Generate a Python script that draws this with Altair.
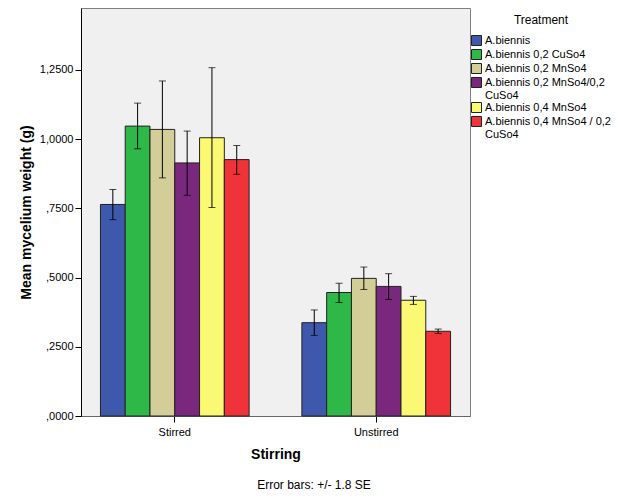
import altair as alt
import pandas as pd

treatments = [
    "A.biennis",
    "A.biennis 0,2 CuSo4",
    "A.biennis 0,2 MnSo4",
    "A.biennis 0,2 MnSo4/0,2 CuSo4",
    "A.biennis 0,4 MnSo4",
    "A.biennis 0,4 MnSo4 / 0,2 CuSo4",
]
colors = ["#3E58AC", "#2EB848", "#D3CE97", "#7A287E", "#FBF873", "#EF3338"]
groups = ["Stirred", "Unstirred"]

stirred_mean = [0.764, 1.047, 1.035, 0.914, 1.005, 0.926]
stirred_lo = [0.709, 0.965, 0.860, 0.797, 0.753, 0.873]
stirred_hi = [0.818, 1.130, 1.210, 1.029, 1.258, 0.977]
unstirred_mean = [0.337, 0.446, 0.497, 0.468, 0.418, 0.306]
unstirred_lo = [0.291, 0.410, 0.457, 0.421, 0.403, 0.298]
unstirred_hi = [0.383, 0.479, 0.538, 0.514, 0.432, 0.314]

y_ticks = [0, 0.25, 0.5, 0.75, 1.0, 1.25]
footnote = "Error bars: +/- 1.8 SE"

rows = []
for g, means, los, his in [
    ("Stirred", stirred_mean, stirred_lo, stirred_hi),
    ("Unstirred", unstirred_mean, unstirred_lo, unstirred_hi),
]:
    for t, m, lo, hi in zip(treatments, means, los, his):
        rows.append({"Stirring": g, "Treatment": t, "mean": m, "lo": lo, "hi": hi})
df = pd.DataFrame(rows)

FONT = "Liberation Sans"

x_enc = alt.X(
    "Stirring:N",
    sort=groups,
    scale=alt.Scale(paddingInner=0.262, paddingOuter=0.0965),
    axis=alt.Axis(
        title="Stirring", labelAngle=0, labelFontSize=11, titleFontSize=14,
        titleFontWeight="bold", tickSize=6, labelPadding=4, titlePadding=10,
        domainColor="#666666", tickColor="black", labelColor="black", titleColor="black",
    ),
)
xo_enc = alt.XOffset("Treatment:N", sort=treatments,
                     scale=alt.Scale(paddingInner=0, paddingOuter=0))

bars = alt.Chart(df).mark_bar(stroke="#222222", strokeWidth=1).encode(
    x=x_enc,
    xOffset=xo_enc,
    y=alt.Y(
        "mean:Q",
        scale=alt.Scale(domain=[0, 1.4735], nice=False, zero=True),
        axis=alt.Axis(
            title="Mean mycelium weight (g)", values=y_ticks, grid=False,
            labelFontSize=11, titleFontSize=14, titleFontWeight="bold",
            tickSize=6, labelPadding=2, titlePadding=6,
            domainColor="black", tickColor="black", labelColor="black", titleColor="black",
            labelExpr="datum.value < 1 ? replace(format(datum.value, '.4f'), '0.', ',') : replace(format(datum.value, '.4f'), '.', ',')",
        ),
    ),
    fill=alt.Fill(
        "Treatment:N", sort=treatments,
        scale=alt.Scale(domain=treatments, range=colors),
        legend=alt.Legend(
            title="Treatment", orient="none", legendX=390, legendY=7,
            titleFontSize=12, titleFontWeight="normal", titleAnchor="middle",
            titleAlign="center", titleColor="black", titlePadding=8,
            labelFontSize=11, labelColor="black", symbolType="square",
            symbolSize=100, symbolStrokeColor="#222222", symbolStrokeWidth=1,
            rowPadding=-1, labelOffset=3,
            labelExpr="indexof(datum.label, '0,2 CuSo4') > 10 ? [replace(datum.label, ' CuSo4', ''), 'CuSo4'] : datum.label",
        ),
    ),
)

rules = alt.Chart(df).mark_rule(color="black", strokeWidth=1).encode(
    x=x_enc, xOffset=xo_enc, y="lo:Q", y2="hi:Q"
)
cap_lo = alt.Chart(df).mark_tick(color="black", thickness=1, size=7).encode(
    x=x_enc, xOffset=xo_enc, y="lo:Q"
)
cap_hi = alt.Chart(df).mark_tick(color="black", thickness=1, size=7).encode(
    x=x_enc, xOffset=xo_enc, y="hi:Q"
)

note = alt.Chart(pd.DataFrame({"t": [footnote]})).mark_text(
    fontSize=12, font=FONT, color="black", align="center", baseline="middle"
).encode(text="t:N", x=alt.value(233), y=alt.value(477))

chart = alt.layer(bars, rules, cap_lo, cap_hi, note).properties(
    width=389, height=408,
    autosize=alt.AutoSizeParams(type="none"),
    padding={"left": 73, "top": 0, "right": 150, "bottom": 80},
).configure(font=FONT).configure_view(
    fill="#F0F0F0", stroke="#7f7f7f", strokeWidth=1
)

chart.save("out.html", embed_options={"renderer": "svg", "actions": False})
